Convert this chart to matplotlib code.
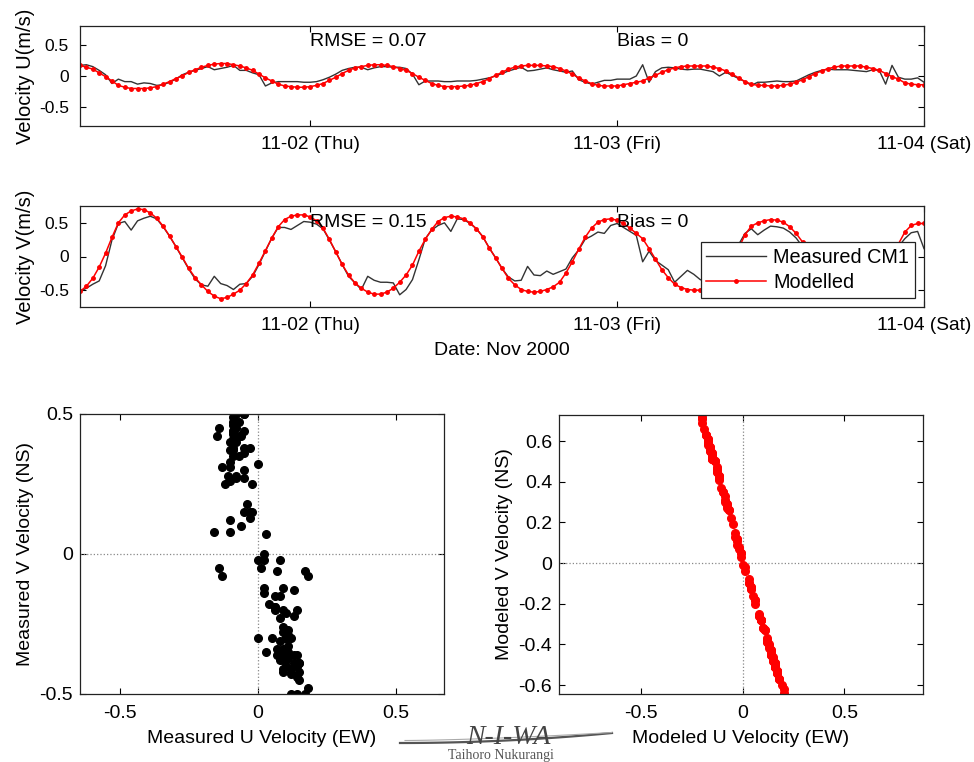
import numpy as np
import pandas as pd
import matplotlib
matplotlib.use('Agg')
import matplotlib.pyplot as plt
import matplotlib.dates as mdates
from matplotlib.lines import Line2D
from matplotlib.ticker import FuncFormatter

plt.rcParams['font.family'] = ['Liberation Sans', 'DejaVu Sans']
plt.rcParams['axes.unicode_minus'] = False

# half-hourly samples from 2000-11-01 06:00 to 2000-11-04 00:00
start = '2000-11-01 06:00'

u_meas = [0.17, 0.18, 0.15, 0.09, 0.02, -0.12, -0.05, -0.09, -0.09, -0.13, -0.11, -0.12,
          -0.15, -0.14, -0.10, -0.05, 0.02, 0.06, 0.09, 0.12, 0.15, 0.10, 0.12, 0.14,
          0.17, 0.09, 0.09, 0.05, 0.02, -0.16, -0.11, -0.09, -0.09, -0.09, -0.09, -0.10,
          -0.10, -0.09, -0.06, -0.02, 0.03, 0.09, 0.12, 0.14, 0.14, 0.10, 0.13, 0.15,
          0.15, 0.14, 0.14, 0.12, 0.03, -0.14, -0.08, -0.08, -0.08, -0.09, -0.09, -0.08,
          -0.08, -0.08, -0.07, -0.05, -0.03, 0.00, 0.04, 0.08, 0.11, 0.14, 0.08, 0.09,
          0.11, 0.13, 0.10, 0.08, 0.06, 0.08, -0.06, -0.10, -0.13, -0.10, -0.07, -0.07,
          -0.05, -0.05, -0.05, 0.00, 0.18, -0.10, 0.07, 0.13, 0.14, 0.13, 0.11, 0.10,
          0.11, 0.11, 0.09, 0.07, 0.00, 0.06, 0.01, -0.04, -0.09, -0.15, -0.10, -0.10,
          -0.09, -0.08, -0.09, -0.09, -0.08, -0.03, 0.02, 0.06, 0.09, 0.11, 0.10, 0.10,
          0.10, 0.09, 0.08, 0.07, 0.10, 0.09, -0.13, 0.17, -0.02, -0.05, -0.05, -0.03,
          -0.10]

v_meas = [-0.53, -0.48, -0.42, -0.37, -0.14, 0.25, 0.50, 0.53, 0.40, 0.54, 0.58, 0.61,
          0.57, 0.45, 0.31, 0.15, -0.02, -0.19, -0.34, -0.43, -0.45, -0.30, -0.41, -0.44,
          -0.50, -0.42, -0.41, -0.30, -0.12, 0.08, 0.28, 0.44, 0.44, 0.41, 0.47, 0.53,
          0.52, 0.49, 0.42, 0.25, 0.07, -0.12, -0.30, -0.40, -0.50, -0.30, -0.36, -0.39,
          -0.39, -0.40, -0.58, -0.50, -0.35, -0.05, 0.27, 0.40, 0.47, 0.51, 0.38, 0.57,
          0.56, 0.50, 0.42, 0.30, 0.13, -0.02, -0.18, -0.31, -0.37, -0.36, -0.15, -0.28,
          -0.29, -0.22, -0.27, -0.23, -0.19, -0.02, 0.10, 0.26, 0.31, 0.37, 0.35, 0.47,
          0.50, 0.44, 0.38, 0.32, -0.08, 0.08, -0.06, -0.13, -0.20, -0.39, -0.30, -0.21,
          -0.27, -0.35, -0.38, -0.36, -0.30, -0.20, -0.05, 0.18, 0.35, 0.42, 0.33, 0.40,
          0.46, 0.45, 0.43, 0.37, 0.28, 0.15, 0.00, -0.15, -0.26, -0.33, -0.37, -0.40,
          -0.38, -0.36, -0.38, -0.34, -0.30, -0.20, -0.08, -0.06, 0.15, 0.27, 0.36, 0.38,
          0.12]

u_mod = [0.17, 0.14, 0.11, 0.05, -0.01, -0.08, -0.15, -0.18, -0.20, -0.20, -0.20, -0.19,
         -0.17, -0.13, -0.09, -0.04, 0.00, 0.06, 0.10, 0.14, 0.17, 0.19, 0.20, 0.20,
         0.18, 0.16, 0.13, 0.09, 0.03, -0.03, -0.08, -0.13, -0.16, -0.17, -0.18, -0.18,
         -0.17, -0.15, -0.12, -0.07, -0.02, 0.04, 0.09, 0.13, 0.15, 0.17, 0.18, 0.18,
         0.17, 0.15, 0.12, 0.09, 0.04, -0.02, -0.07, -0.12, -0.15, -0.17, -0.17, -0.17,
         -0.16, -0.15, -0.12, -0.09, -0.04, 0.01, 0.06, 0.11, 0.14, 0.16, 0.17, 0.17,
         0.17, 0.16, 0.15, 0.12, 0.08, 0.03, -0.03, -0.08, -0.12, -0.15, -0.16, -0.16,
         -0.16, -0.14, -0.12, -0.10, -0.08, -0.03, 0.01, 0.06, 0.10, 0.13, 0.15, 0.16,
         0.16, 0.16, 0.16, 0.14, 0.12, 0.08, 0.03, -0.03, -0.09, -0.13, -0.15, -0.15,
         -0.16, -0.16, -0.15, -0.13, -0.10, -0.06, -0.01, 0.04, 0.08, 0.12, 0.14, 0.16,
         0.16, 0.16, 0.16, 0.14, 0.12, 0.09, 0.04, -0.01, -0.05, -0.11, -0.13, -0.14,
         -0.14]

v_mod = [-0.53, -0.45, -0.33, -0.16, 0.05, 0.29, 0.51, 0.63, 0.69, 0.72, 0.71, 0.66,
         0.58, 0.46, 0.31, 0.15, -0.01, -0.18, -0.32, -0.43, -0.53, -0.60, -0.64, -0.62,
         -0.57, -0.51, -0.41, -0.28, -0.10, 0.09, 0.28, 0.45, 0.56, 0.61, 0.63, 0.63,
         0.60, 0.54, 0.43, 0.26, 0.07, -0.12, -0.28, -0.40, -0.48, -0.54, -0.57, -0.57,
         -0.54, -0.48, -0.39, -0.28, -0.13, 0.08, 0.26, 0.41, 0.53, 0.59, 0.61, 0.60,
         0.57, 0.51, 0.42, 0.30, 0.13, -0.02, -0.18, -0.33, -0.43, -0.50, -0.53, -0.54,
         -0.53, -0.50, -0.46, -0.39, -0.25, -0.08, 0.11, 0.29, 0.43, 0.52, 0.56, 0.57,
         0.55, 0.50, 0.43, 0.35, 0.27, 0.12, -0.04, -0.20, -0.32, -0.42, -0.47, -0.50,
         -0.51, -0.51, -0.49, -0.45, -0.38, -0.26, -0.10, 0.12, 0.33, 0.46, 0.51, 0.54,
         0.56, 0.55, 0.52, 0.45, 0.35, 0.22, 0.05, -0.12, -0.26, -0.37, -0.44, -0.49,
         -0.51, -0.51, -0.49, -0.45, -0.38, -0.28, -0.13, 0.03, 0.19, 0.37, 0.47, 0.50,
         0.50]

stats_u = ['RMSE = 0.07', 'Bias = 0']
stats_v = ['RMSE = 0.15', 'Bias = 0']
day_ticks = ['2000-11-02', '2000-11-03', '2000-11-04']

times = pd.date_range(start, periods=len(v_mod), freq='30min')

fmt = FuncFormatter(lambda v, p: f'{np.round(v, 2) + 0.0:g}')
W, H = 974, 762


def box(x0, y0, x1, y1):
    return [x0 / W, 1 - y1 / H, (x1 - x0) / W, (y1 - y0) / H]


def style(ax, fs):
    ax.tick_params(direction='in', top=True, right=True, length=4, width=0.8,
                   labelsize=fs, colors='black')
    for s in ax.spines.values():
        s.set_linewidth(0.9)
        s.set_color('#222222')
    ax.yaxis.set_major_formatter(fmt)


fig = plt.figure(figsize=(9.74, 7.62), dpi=100)

# time series panels
ts = [(box(80, 26, 924, 126), u_meas, u_mod, 'Velocity U(m/s)', 0.8, stats_u, 0.55),
      (box(80, 206, 924, 307), v_meas, v_mod, 'Velocity V(m/s)', 0.765, stats_v, 0.52)]
for i, (pos, meas, mod, lab, lim, stats, ty) in enumerate(ts):
    ax = fig.add_axes(pos)
    ax.plot(times, meas, color='#333333', lw=1.0, label='Measured CM1')
    ax.plot(times, mod, '.-', color='red', lw=1.1, ms=5, label='Modelled')
    ax.set_xlim(times[0], times[-1])
    ax.set_ylim(-lim, lim)
    ax.set_yticks([-0.5, 0, 0.5])
    ax.set_xticks(pd.to_datetime(day_ticks))
    ax.xaxis.set_major_formatter(mdates.DateFormatter('%m-%d (%a)'))
    style(ax, 12.5)
    ax.tick_params(axis='x', pad=7, labelsize=13.8)
    ax.tick_params(axis='y', pad=8)
    ax.set_ylabel(lab, fontsize=14.5, labelpad=3)
    ax.text(pd.Timestamp(day_ticks[0]), ty, stats[0], fontsize=14, va='center')
    ax.text(pd.Timestamp(day_ticks[1]), ty, stats[1], fontsize=14, va='center')
    if i == 1:
        ax.set_xlabel('Date: Nov 2000', fontsize=14, labelpad=6)
        leg = ax.legend(loc='lower right', bbox_to_anchor=(0.9893, 0.089),
                        borderaxespad=0, fontsize=14.3, handlelength=3.0,
                        numpoints=1, fancybox=False, framealpha=1,
                        edgecolor='#222222', borderpad=0.3, labelspacing=0.3,
                        handletextpad=0.35)
        leg.get_frame().set_linewidth(0.9)

# scatter panels
sc = [(box(80, 414, 444, 694), u_meas, v_meas, 'black', (-0.645, 0.674), (-0.5, 0.5),
       [-0.5, 0, 0.5], 'Measured U Velocity (EW)', 'Measured V Velocity (NS)'),
      (box(559, 415, 923, 694), u_mod, v_mod, 'red', (-0.906, 0.887), (-0.644, 0.728),
       [-0.6, -0.4, -0.2, 0, 0.2, 0.4, 0.6], 'Modeled U Velocity (EW)',
       'Modeled V Velocity (NS)')]
for pos, uu, vv, col, xl, yl, yt, xlab, ylab in sc:
    ax = fig.add_axes(pos)
    ax.axhline(0, color='#888888', ls=':', lw=0.9)
    ax.axvline(0, color='#888888', ls=':', lw=0.9)
    ax.plot(uu, vv, 'o', color=col, ms=5.5, mec=col)
    ax.set_xlim(*xl)
    ax.set_ylim(*yl)
    ax.set_xticks([-0.5, 0, 0.5])
    ax.set_yticks(yt)
    ax.xaxis.set_major_formatter(fmt)
    style(ax, 14)
    ax.tick_params(axis='y', pad=5)
    ax.tick_params(axis='x', pad=8)
    ax.set_xlabel(xlab, fontsize=14, labelpad=6)
    ax.set_ylabel(ylab, fontsize=14, labelpad=4)

# NIWA logo at the bottom
xs = np.linspace(400, 612, 60)
fig.add_artist(Line2D(xs / W, 1 - (743 - 10 * ((xs - 400) / 212) ** 2) / H,
                      color='#555555', lw=1.6))
xs2 = np.linspace(405, 612, 60)
fig.add_artist(Line2D(xs2 / W, 1 - (740.5 - 8 * ((xs2 - 405) / 207) ** 1.5) / H,
                      color='#aaaaaa', lw=0.8))
fig.text(508 / W, 1 - 737 / H, 'N-I-WA', fontsize=20, style='italic',
         family='Liberation Serif', color='#444444', ha='center', va='center')
fig.text(501 / W, 1 - 755 / H, 'Taihoro Nukurangi', fontsize=10,
         family='Liberation Serif', color='#555555', ha='center', va='center')

fig.savefig('out.png', dpi=100)
